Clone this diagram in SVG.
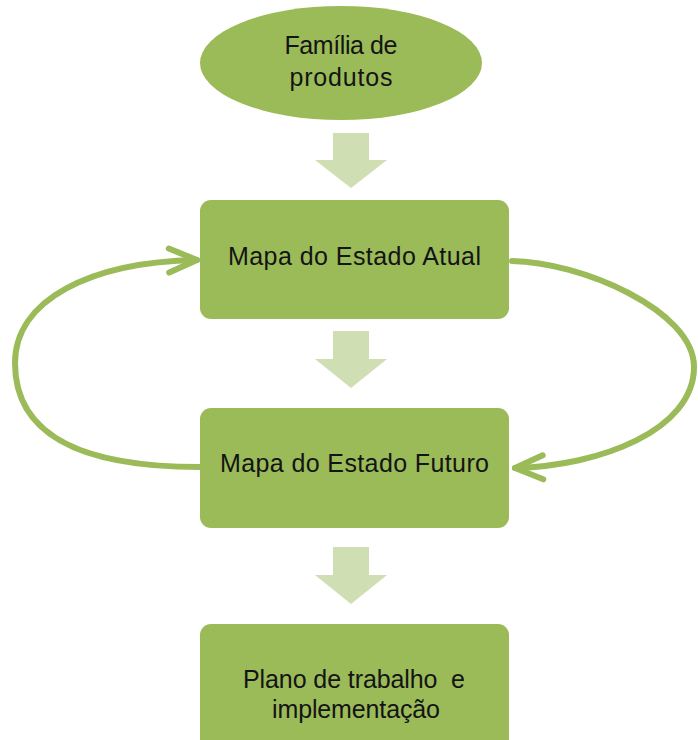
<svg xmlns="http://www.w3.org/2000/svg" width="698" height="740" viewBox="0 0 698 740">
<style>
.node{fill:#9bbb59}
.lbl{font-family:"Liberation Sans",Arial,sans-serif;font-size:25px;fill:#141414;text-anchor:middle}
.blk{fill:#d0deb4}
.loop{fill:none;stroke:#9bbb59;stroke-width:6;stroke-linecap:round}
</style>
<defs>
<marker id="chev" markerUnits="userSpaceOnUse" orient="auto" refX="0" refY="0" markerWidth="40" markerHeight="40" overflow="visible">
<path d="M -28 -12 L 0 0 L -28 12" fill="none" stroke="#9bbb59" stroke-width="6" stroke-linecap="round" stroke-linejoin="round"/>
</marker>
</defs>
<rect width="698" height="740" fill="#ffffff"/>
<g id="connectors">
<path class="blk" d="M333 133 H369 V160 H387 L351 188 L315 160 H333 Z"/>
<path class="blk" d="M333 331 H369 V359 H387 L351 388 L315 359 H333 Z"/>
<path class="blk" d="M333 547 H369 V575 H387 L351 604 L315 575 H333 Z"/>
<path class="loop" d="M200 467 C90 467 15 440 15 363 C15 300 90 262 197 260" marker-end="url(#chev)"/>
<path class="loop" d="M512 261 C580 262 694 310 694 367 C694 430 600 466 515 468" marker-end="url(#chev)"/>
</g>
<g id="familia">
<ellipse class="node" cx="341" cy="63" rx="141" ry="57"/>
<text class="lbl" x="341" y="54" textLength="113">Família de</text>
<text class="lbl" x="341" y="86" textLength="103">produtos</text>
</g>
<g id="estado-atual">
<rect class="node" x="200" y="200" width="309" height="119" rx="11"/>
<text class="lbl" x="354.5" y="265" textLength="253">Mapa do Estado Atual</text>
</g>
<g id="estado-futuro">
<rect class="node" x="200" y="408" width="309" height="120" rx="11"/>
<text class="lbl" x="354.5" y="472" textLength="269">Mapa do Estado Futuro</text>
</g>
<g id="plano">
<rect class="node" x="200" y="624" width="309" height="130" rx="11"/>
<text class="lbl" x="354" y="688" textLength="222" xml:space="preserve">Plano de trabalho  e</text>
<text class="lbl" x="356" y="718" textLength="168">implementação</text>
</g>
</svg>
